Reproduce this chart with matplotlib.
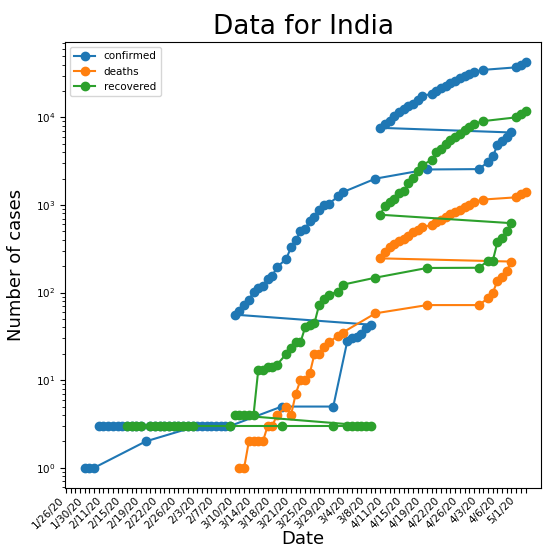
"""Cumulative case counts for India on a log axis."""

import numpy as np
import pandas as pd
import matplotlib
matplotlib.use('Agg')
import matplotlib.pyplot as plt


# Daily dates as m/d/yy strings, 1/26/20 to 5/3/20 (chronological).
dates = [f'{d.month}/{d.day}/{d.year % 100}'
         for d in pd.date_range('2020-01-26', '2020-05-03')]

confirmed = ([0, 0, 0, 0, 1, 1] +
             [1, 2] + [3] * 27 +
             [3, 5, 5, 28, 30, 31, 34, 39, 43, 56, 62, 73, 82, 102, 113, 119,
              142, 156, 194, 244, 330, 396, 499, 536, 657, 727, 887, 987,
              1024, 1251, 1397] +
             [1998, 2543, 2567, 3082, 3588, 4778, 5311, 5916, 6725, 7598,
              8446, 9205, 10453, 11487, 12322, 13430, 14352, 15722, 17615,
              18539, 20080, 21370, 23077, 24530, 26283, 27890, 29451, 31324,
              33062, 34863] +
             [37257, 39699, 42505])

deaths = ([0] * 6 +
          [0] * 29 +
          [0] * 10 +
          [1, 1, 2, 2, 2, 2, 3, 3, 4, 5, 4, 7, 10, 10, 12, 20, 20, 24, 27,
           32, 35] +
          [58, 72, 72, 86, 99, 136, 150, 178, 226, 246, 288, 331, 358, 393,
           405, 448, 486, 521, 559, 592, 645, 681, 721, 780, 825, 881, 939,
           1008, 1079, 1154] +
          [1223, 1323, 1391])

recovered = ([0] * 6 +
             [0] * 15 + [3] * 14 +
             [3] * 9 + [4] * 5 +
             [13, 13, 14, 14, 15, 20, 23, 27, 27, 40, 43, 45, 73, 84, 95,
              102, 123] +
             [148, 191, 192, 229, 229, 375, 421, 506, 620, 774, 969, 1080,
              1181, 1359, 1432, 1768, 2041, 2463, 2854, 3273, 3975, 4370,
              5012, 5498, 5939, 6523, 7137, 7796, 8437, 9068] +
             [10007, 10819, 11775])

series = {'confirmed': confirmed, 'deaths': deaths, 'recovered': recovered}


fig = plt.figure(figsize=(5.44, 5.49), dpi=100)
ax = fig.add_axes([0.1195, 0.111, 0.875, 0.8124])

# Category order on the x axis follows the sorted date strings.
categories = sorted(dates)
ax.xaxis.update_units(categories)

for name, values in series.items():
    # Zero counts cannot go on a log axis, leave them out.
    y = np.array(values, dtype=float)
    y[y <= 0] = np.nan
    ax.plot(dates, y, marker='o', label=name)

ax.set_yscale('log')

ax.set_xticks(range(len(categories)))
ax.set_xticklabels([c if i % 4 == 0 else '' for i, c in enumerate(categories)],
                   rotation=45, ha='right', fontsize=7.5)
ax.set_xlim(-0.2, len(categories) + 2.3)
ax.tick_params(axis='x', pad=1.5)
ax.tick_params(axis='y', labelsize=7.5)

ax.set_title('Data for India', fontsize=19)
ax.set_xlabel('Date', fontsize=13, labelpad=0)
ax.set_ylabel('Number of cases', fontsize=13, labelpad=8)
ax.legend(loc='upper left', fontsize=7.5)

plt.savefig('out.png', dpi=100)
